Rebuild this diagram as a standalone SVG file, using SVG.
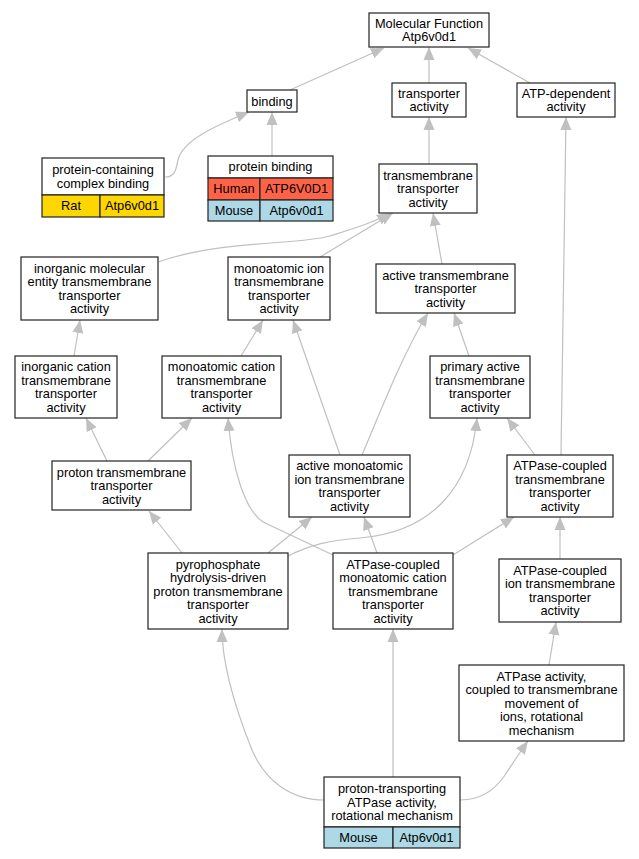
<svg xmlns="http://www.w3.org/2000/svg" width="639" height="859" viewBox="0 0 639 859">
<defs>
<style>
.n rect{fill:#fff;stroke:#222;stroke-width:1.2}
.n text{font-family:"Liberation Sans",Arial,sans-serif;font-size:12.8px;fill:#000;text-anchor:middle}
.e path{fill:none;stroke:#c0c0c0;stroke-width:1.2}
.hum{fill:#ff6347!important}
.mou{fill:#add8e6!important}
.rat{fill:#ffd700!important}
</style>
<marker id="a" markerUnits="userSpaceOnUse" markerWidth="14" markerHeight="12" refX="13" refY="5.5" orient="auto" viewBox="0 0 14 11">
<path d="M0,0 L13,5.5 L0,11 z" fill="#c0c0c0"/>
</marker>
</defs>
<rect width="639" height="859" fill="#fff"/>
<g id="edges" class="e">
<path d="M429,83 L429,47" marker-end="url(#a)"/>
<path d="M290,90 L384,48" marker-end="url(#a)"/>
<path d="M530,83 L468,48" marker-end="url(#a)"/>
<path d="M165,177 C175,177 176,170 178,160 C183,140 215,126 249,112" marker-end="url(#a)"/>
<path d="M272,156 L272,112" marker-end="url(#a)"/>
<path d="M429,164 L429,117" marker-end="url(#a)"/>
<path d="M158,262 C220,240 300,245 330,236 C355,228 375,222 390,213" marker-end="url(#a)"/>
<path d="M320,257 L393,213" marker-end="url(#a)"/>
<path d="M442,264 L433,213" marker-end="url(#a)"/>
<path d="M561,455 L566,117" marker-end="url(#a)"/>
<path d="M74,356 L80,320" marker-end="url(#a)"/>
<path d="M241,356 L263,320" marker-end="url(#a)"/>
<path d="M340,455 L293,320" marker-end="url(#a)"/>
<path d="M362,455 C385,400 405,350 428,313" marker-end="url(#a)"/>
<path d="M469,356 L454,313" marker-end="url(#a)"/>
<path d="M107,461 L86,418" marker-end="url(#a)"/>
<path d="M148,461 L192,418" marker-end="url(#a)"/>
<path d="M535,455 L507,418" marker-end="url(#a)"/>
<path d="M333,555 L263,522 C245,510 232,470 228,418" marker-end="url(#a)"/>
<path d="M377,553 L364,517" marker-end="url(#a)"/>
<path d="M453,555 L514,517" marker-end="url(#a)"/>
<path d="M182,553 L149,511" marker-end="url(#a)"/>
<path d="M268,553 L312,517" marker-end="url(#a)"/>
<path d="M288,556 C310,545 330,540 360,538 C430,532 470,490 477,418" marker-end="url(#a)"/>
<path d="M560,559 L560,517" marker-end="url(#a)"/>
<path d="M549,665 L556,622" marker-end="url(#a)"/>
<path d="M324,800 C290,800 265,780 252,750 C232,700 222,660 222,629" marker-end="url(#a)"/>
<path d="M393,777 L393,629" marker-end="url(#a)"/>
<path d="M460,800 C480,800 495,790 505,775 C515,760 520,752 528,741" marker-end="url(#a)"/>
</g>
<g id="mf" class="n"><rect x="369" y="13" width="120" height="34"/><text x="429" y="27.75">Molecular Function<tspan x="429" dy="13.5">Atp6v0d1</tspan></text></g>
<g id="binding" class="n"><rect x="247" y="90" width="50" height="22"/><text x="272" y="105.5">binding</text></g>
<g id="transporter" class="n"><rect x="392" y="83" width="74" height="34"/><text x="429" y="97.75">transporter<tspan x="429" dy="13.5">activity</tspan></text></g>
<g id="atpdep" class="n"><rect x="517" y="83" width="98" height="34"/><text x="566" y="97.75">ATP-dependent<tspan x="566" dy="13.5">activity</tspan></text></g>
<g id="pccb" class="n"><rect x="42" y="158" width="122" height="37"/><rect class="rat" x="42" y="195" width="58" height="22"/><rect class="rat" x="100" y="195" width="64" height="22"/><text x="103" y="174">protein-containing<tspan x="103" dy="13.5">complex binding</tspan></text><text x="71" y="210">Rat</text><text x="132" y="210">Atp6v0d1</text></g>
<g id="pb" class="n"><rect x="208" y="156" width="125" height="22"/><rect class="hum" x="208" y="178" width="52" height="22"/><rect class="hum" x="260" y="178" width="73" height="22"/><rect class="mou" x="208" y="200" width="52" height="21"/><rect class="mou" x="260" y="200" width="73" height="21"/><text x="270.5" y="171">protein binding</text><text x="234" y="193">Human</text><text x="296.5" y="193">ATP6V0D1</text><text x="234" y="214.5">Mouse</text><text x="296.5" y="214.5">Atp6v0d1</text></g>
<g id="tta" class="n"><rect x="379" y="164" width="98" height="49"/><text x="428" y="179.5">transmembrane<tspan x="428" dy="13.5">transporter</tspan><tspan x="428" dy="13.5">activity</tspan></text></g>
<g id="imett" class="n"><rect x="21" y="257" width="137" height="63"/><text x="89.5" y="272.75">inorganic molecular<tspan x="89.5" dy="13.5">entity transmembrane</tspan><tspan x="89.5" dy="13.5">transporter</tspan><tspan x="89.5" dy="13.5">activity</tspan></text></g>
<g id="mitt" class="n"><rect x="228" y="257" width="102" height="63"/><text x="279" y="272.75">monoatomic ion<tspan x="279" dy="13.5">transmembrane</tspan><tspan x="279" dy="13.5">transporter</tspan><tspan x="279" dy="13.5">activity</tspan></text></g>
<g id="atta" class="n"><rect x="376" y="264" width="139" height="49"/><text x="445.5" y="279.5">active transmembrane<tspan x="445.5" dy="13.5">transporter</tspan><tspan x="445.5" dy="13.5">activity</tspan></text></g>
<g id="ictt" class="n"><rect x="15" y="356" width="102" height="62"/><text x="66" y="371.25">inorganic cation<tspan x="66" dy="13.5">transmembrane</tspan><tspan x="66" dy="13.5">transporter</tspan><tspan x="66" dy="13.5">activity</tspan></text></g>
<g id="mctt" class="n"><rect x="162" y="356" width="119" height="62"/><text x="221.5" y="371.25">monoatomic cation<tspan x="221.5" dy="13.5">transmembrane</tspan><tspan x="221.5" dy="13.5">transporter</tspan><tspan x="221.5" dy="13.5">activity</tspan></text></g>
<g id="patt" class="n"><rect x="430" y="356" width="100" height="62"/><text x="480" y="371.25">primary active<tspan x="480" dy="13.5">transmembrane</tspan><tspan x="480" dy="13.5">transporter</tspan><tspan x="480" dy="13.5">activity</tspan></text></g>
<g id="ptta" class="n"><rect x="52" y="461" width="139" height="49"/><text x="121.5" y="476.5">proton transmembrane<tspan x="121.5" dy="13.5">transporter</tspan><tspan x="121.5" dy="13.5">activity</tspan></text></g>
<g id="amitt" class="n"><rect x="289" y="455" width="121" height="62"/><text x="349.5" y="470.25">active monoatomic<tspan x="349.5" dy="13.5">ion transmembrane</tspan><tspan x="349.5" dy="13.5">transporter</tspan><tspan x="349.5" dy="13.5">activity</tspan></text></g>
<g id="actt" class="n"><rect x="507" y="455" width="106" height="62"/><text x="560" y="470.25">ATPase-coupled<tspan x="560" dy="13.5">transmembrane</tspan><tspan x="560" dy="13.5">transporter</tspan><tspan x="560" dy="13.5">activity</tspan></text></g>
<g id="pyro" class="n"><rect x="148" y="553" width="140" height="76"/><text x="218" y="568.5">pyrophosphate<tspan x="218" dy="13.5">hydrolysis-driven</tspan><tspan x="218" dy="13.5">proton transmembrane</tspan><tspan x="218" dy="13.5">transporter</tspan><tspan x="218" dy="13.5">activity</tspan></text></g>
<g id="acmc" class="n"><rect x="333" y="553" width="120" height="76"/><text x="393" y="568.5">ATPase-coupled<tspan x="393" dy="13.5">monoatomic cation</tspan><tspan x="393" dy="13.5">transmembrane</tspan><tspan x="393" dy="13.5">transporter</tspan><tspan x="393" dy="13.5">activity</tspan></text></g>
<g id="acit" class="n"><rect x="499" y="559" width="122" height="63"/><text x="560" y="574.75">ATPase-coupled<tspan x="560" dy="13.5">ion transmembrane</tspan><tspan x="560" dy="13.5">transporter</tspan><tspan x="560" dy="13.5">activity</tspan></text></g>
<g id="aarot" class="n"><rect x="459" y="665" width="165" height="76"/><text x="541.5" y="680.5">ATPase activity,<tspan x="541.5" dy="13.5">coupled to transmembrane</tspan><tspan x="541.5" dy="13.5">movement of</tspan><tspan x="541.5" dy="13.5">ions, rotational</tspan><tspan x="541.5" dy="13.5">mechanism</tspan></text></g>
<g id="ptrot" class="n"><rect x="324" y="777" width="136" height="50"/><rect class="mou" x="324" y="827" width="69" height="21"/><rect class="mou" x="393" y="827" width="67" height="21"/><text x="392" y="793">proton-transporting<tspan x="392" dy="13.5">ATPase activity,</tspan><tspan x="392" dy="13.5">rotational mechanism</tspan></text><text x="358.5" y="842">Mouse</text><text x="426.5" y="842">Atp6v0d1</text></g>
</svg>
